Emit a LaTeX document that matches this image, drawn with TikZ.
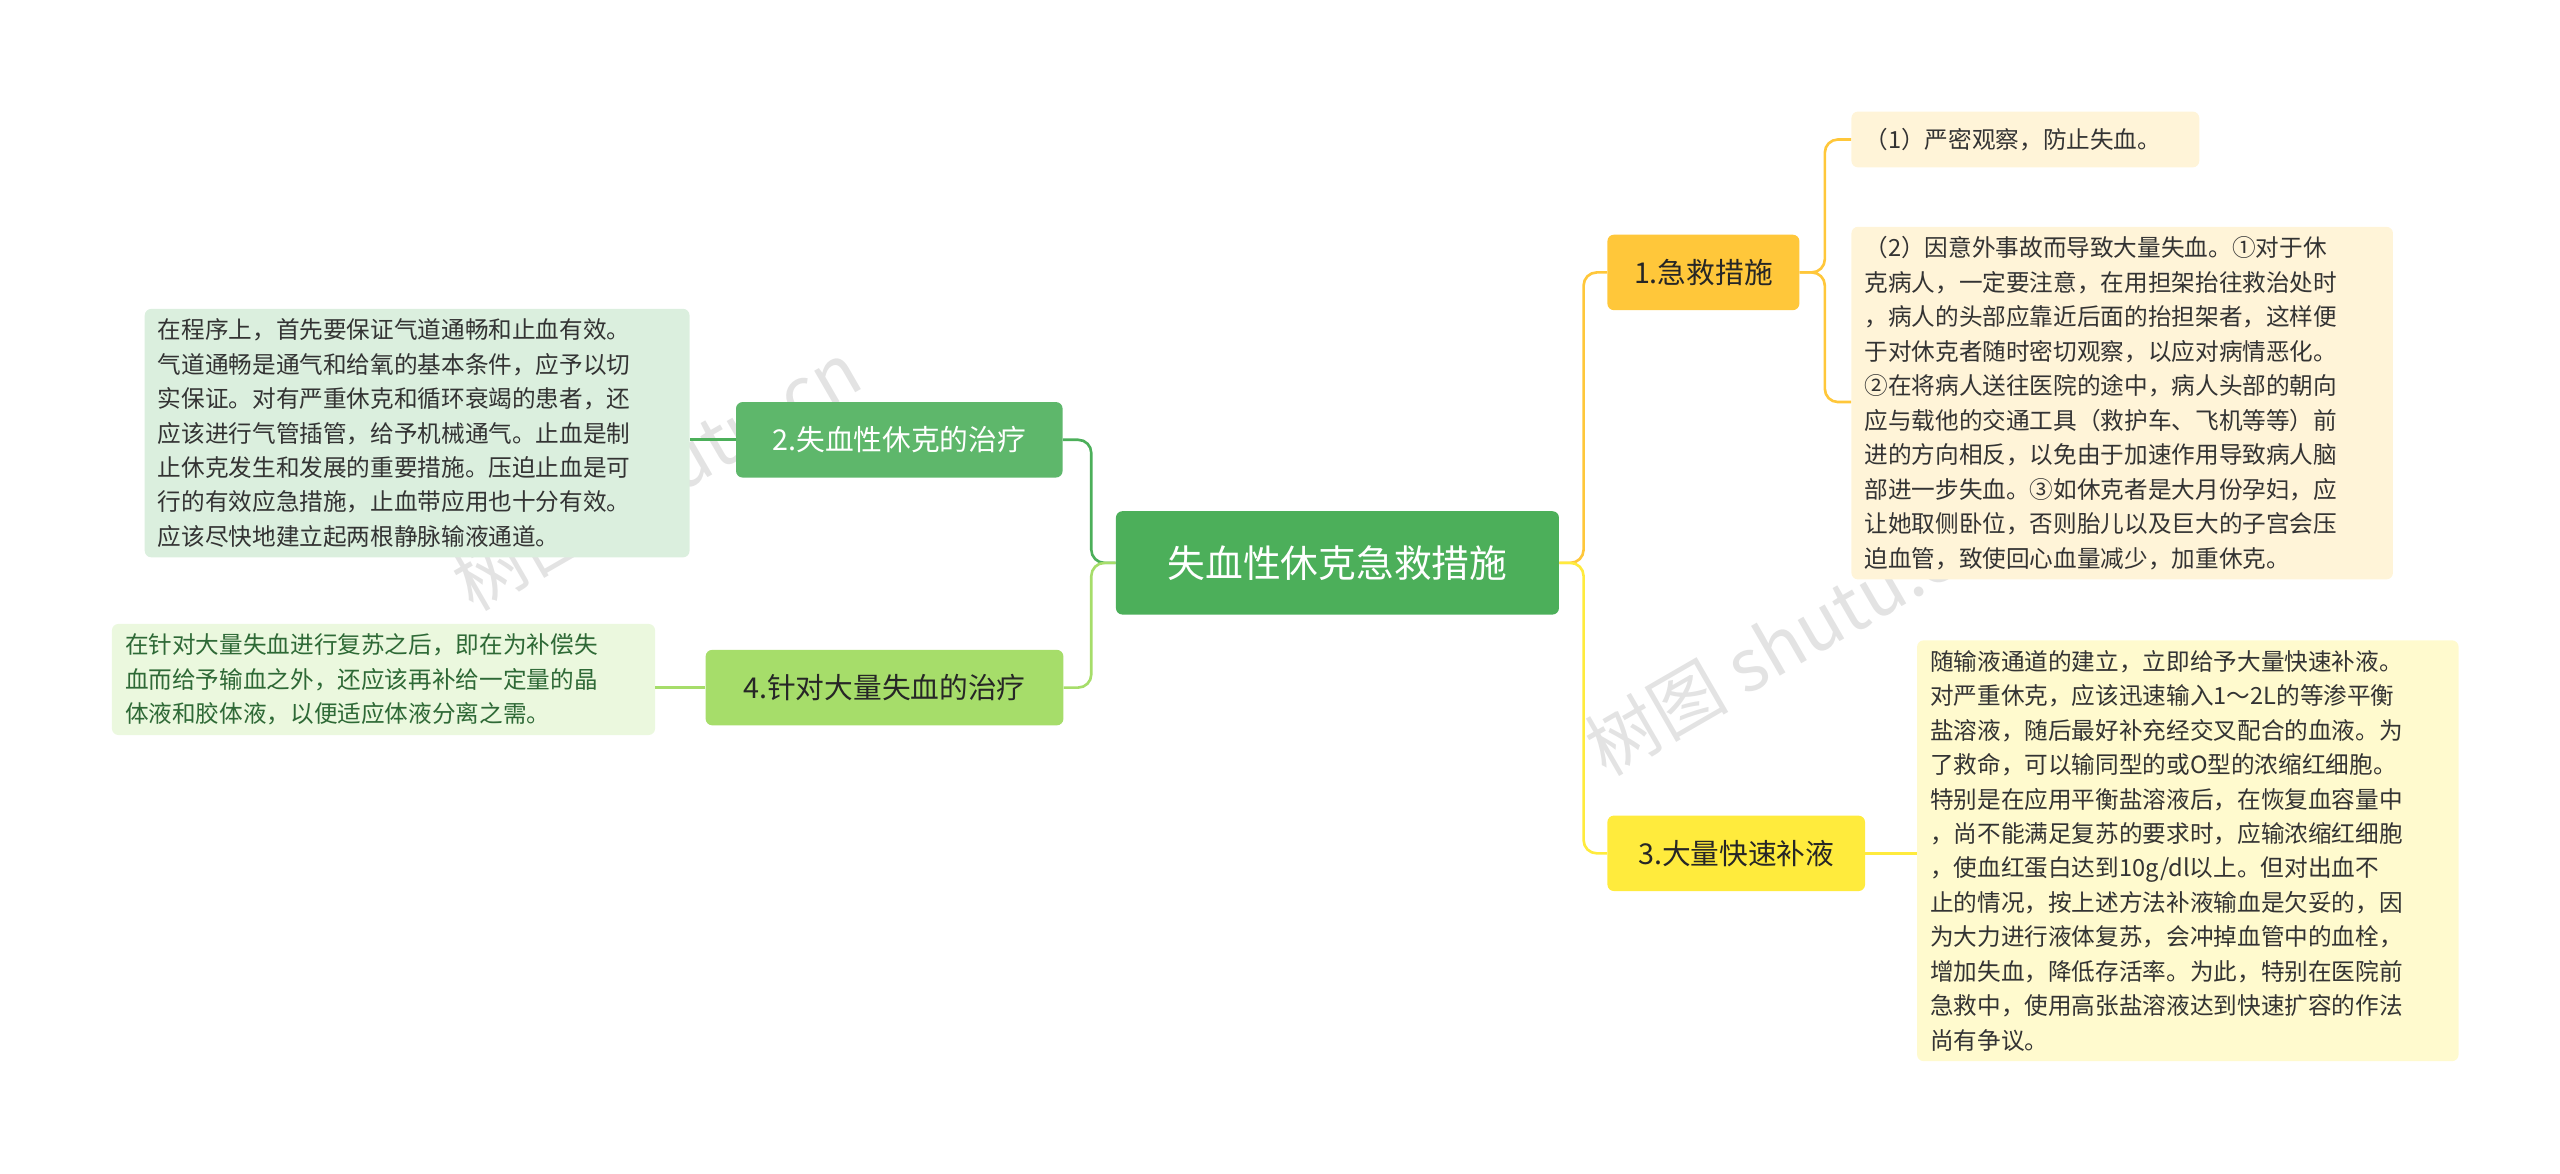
\documentclass[tikz,border=0pt]{standalone}
\usepackage{fontspec}
\setmainfont{Noto Sans CJK SC}
\begin{document}
\begin{tikzpicture}[x=1pt,y=-1pt,
  box/.style={rounded corners=4pt,inner sep=0pt,align=center},
  leaf/.style={rounded corners=4pt,inner xsep=8pt,inner ysep=6pt,align=left,font=\fontsize{14.4}{21}\selectfont,text=black!80},
  con/.style={line width=1.6pt,rounded corners=8pt}]
\useasboundingbox (0,0) rectangle (1560,715);
\definecolor{cg}{HTML}{4CAF5A}
\definecolor{or}{HTML}{FFC73A}
\definecolor{ye}{HTML}{FFEB3D}
\definecolor{lg}{HTML}{A6DD6A}
% watermarks
\foreach \p in {(400,290),(1090,390)}
  \node[rotate=30,text=black!11,font=\fontsize{44}{44}\selectfont] at \p {树图 shutu.cn};
% main nodes
\node[box,fill=cg,text=white,minimum width=270pt,minimum height=63pt,font=\fontsize{23}{23}\selectfont] (c) at (815,343) {失血性休克急救措施};
\node[box,fill=or,text=black!85,minimum width=117pt,minimum height=46pt,font=\fontsize{17.5}{17}\selectfont] (b1) at (1038,166) {1.急救措施};
\node[box,fill=ye,text=black!85,minimum width=157pt,minimum height=46pt,font=\fontsize{17.5}{17}\selectfont] (b3) at (1058,520) {3.大量快速补液};
\node[box,fill=cg!90,text=white,minimum width=199pt,minimum height=46pt,font=\fontsize{17.5}{17}\selectfont] (b2) at (548,268) {2.失血性休克的治疗};
\node[box,fill=lg,text=black!85,minimum width=218pt,minimum height=46pt,font=\fontsize{17.5}{17}\selectfont] (b4) at (539,419) {4.针对大量失血的治疗};
% leaves
\node[leaf,fill=or!20,anchor=west,text width=196pt,minimum height=34pt] (l1) at (1128,85) {（1）严密观察，防止失血。};
\node[leaf,fill=or!20,anchor=north west,text width=314pt] (l2) at (1128,138) {（2）因意外事故而导致大量失血。①对于休\\克病人，一定要注意，在用担架抬往救治处时\\，病人的头部应靠近后面的抬担架者，这样便\\于对休克者随时密切观察，以应对病情恶化。\\②在将病人送往医院的途中，病人头部的朝向\\应与载他的交通工具（救护车、飞机等等）前\\进的方向相反，以免由于加速作用导致病人脑\\部进一步失血。③如休克者是大月份孕妇，应\\让她取侧卧位，否则胎儿以及巨大的子宫会压\\迫血管，致使回心血量减少，加重休克。};
\node[leaf,fill=ye!25,anchor=north west,text width=314pt] (l3) at (1168,390) {随输液通道的建立，立即给予大量快速补液。\\对严重休克，应该迅速输入1～2L的等渗平衡\\盐溶液，随后最好补充经交叉配合的血液。为\\了救命，可以输同型的或O型的浓缩红细胞。\\特别是在应用平衡盐溶液后，在恢复血容量中\\，尚不能满足复苏的要求时，应输浓缩红细胞\\，使血红蛋白达到10g/dl以上。但对出血不\\止的情况，按上述方法补液输血是欠妥的，因\\为大力进行液体复苏，会冲掉血管中的血栓，\\增加失血，降低存活率。为此，特别在医院前\\急救中，使用高张盐溶液达到快速扩容的作法\\尚有争议。};
\node[leaf,fill=cg!20,anchor=north west,text width=316pt] (l2b) at (88,188) {在程序上，首先要保证气道通畅和止血有效。\\气道通畅是通气和给氧的基本条件，应予以切\\实保证。对有严重休克和循环衰竭的患者，还\\应该进行气管插管，给予机械通气。止血是制\\止休克发生和发展的重要措施。压迫止血是可\\行的有效应急措施，止血带应用也十分有效。\\应该尽快地建立起两根静脉输液通道。};
\node[leaf,fill=lg!22,anchor=north west,text width=315pt,text=cg!60!black] (l4) at (68,380) {在针对大量失血进行复苏之后，即在为补偿失\\血而给予输血之外，还应该再补给一定量的晶\\体液和胶体液，以便适应体液分离之需。};
% connectors
\draw[con,draw=or] (c.east) -- (965,343) |- (b1.west);
\draw[con,draw=ye] (c.east) -- (965,343) |- (b3.west);
\draw[con,draw=cg] (c.west) -- (665,343) |- (b2.east);
\draw[con,draw=lg] (c.west) -- (665,343) |- (b4.east);
\draw[con,draw=or] (b1.east) -- (1112,166) |- (l1.west);
\draw[con,draw=or] (b1.east) -- (1112,166) |- (1128,245);
\draw[con,draw=ye] (b3.east) -- (l3.west|-b3.east);
\draw[con,draw=cg] (b2.west) -- (l2b.east|-b2.west);
\draw[con,draw=lg] (b4.west) -- (l4.east|-b4.west);
\end{tikzpicture}
\end{document}
